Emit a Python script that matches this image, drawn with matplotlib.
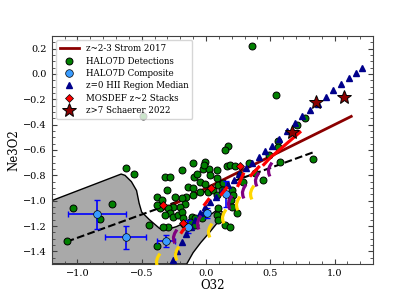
import numpy as np
import matplotlib
matplotlib.use('Agg')
import matplotlib.pyplot as plt
from matplotlib.path import Path

plt.rcParams['font.family'] = 'DejaVu Serif'

# HALO7D detections
det_x = [0.356, 0.545, -0.493, -0.623, -0.56, -1.037, -0.734, -0.825, -1.084, -0.441, -0.384,
         -0.19, -0.021, 0.026, -0.319, -0.28, -0.091, -0.068, -0.047, -0.008, -0.306, -0.384,
         -0.345, -0.138, -0.104, -0.099, -0.156, -0.19, -0.241, -0.163, -0.202, -0.254, -0.293,
         -0.358, -0.384, -0.28, -0.319, -0.254, -0.215, -0.19, -0.293, -0.332, -0.111, -0.086,
         -0.125, -0.086, -0.021, -0.047, 0.018, 0.057, 0.083, 0.083, 0.031, 0.083, -0.099,
         -0.008, -0.016, 0.169, 0.148, 0.16, 0.19, 0.226, 0.335, 0.29, 0.38, 0.44, 0.265,
         0.096, 0.135, 0.122, 0.2, 0.213, 0.195, 0.239, 0.096, 0.083, 0.096, 0.148, 0.187,
         0.576, 0.835, -0.034, 0.563, 0.563, 0.706, 0.77, 0.493, 0.2, -0.18]
det_y = [0.218, -0.166, -0.33, -0.743, -0.79, -1.055, -1.028, -1.144, -1.316, -1.194, -1.358,
         -0.757, -0.749, -0.749, -0.81, -0.81, -0.81, -0.789, -0.85, -0.87, -0.915, -0.968,
         -0.994, -0.889, -0.902, -0.954, -0.968, -0.98, -0.968, -1.028, -1.047, -1.047, -1.06,
         -1.06, -1.034, -1.099, -1.113, -1.126, -1.113, -1.087, -1.205, -1.205, -1.126, -1.139,
         -1.166, -1.192, -1.113, -0.928, -0.928, -0.915, -0.954, -0.823, -0.796, -0.757, -0.704,
         -0.691, -0.717, -0.567, -0.599, -0.725, -0.72, -0.725, -0.70, -0.849, -0.783, -0.84, -0.796,
         -0.875, -0.862, -0.915, -0.915, -0.954, -0.994, -1.094, -1.06, -1.113, -1.152, -1.192, -1.205,
         -0.691, -0.672, -1.139, -0.533, -0.573, -0.401, -0.348, -0.638, -1.047, -1.14]

# HALO7D composite
comp_x = [-0.85, -0.625, -0.311, -0.143, 0.005, 0.158]
comp_y = [-1.107, -1.289, -1.318, -1.205, -1.097, -0.947]
comp_xerr = [0.226, 0.157, 0.072, 0.03, 0.03, 0.02]
comp_yerr = [0.113, 0.092, 0.045, 0.05, 0.04, 0.1]

# z=0 HII region median
hii_x = [-0.26, -0.225, -0.19, -0.155, -0.12, -0.085, -0.045, -0.005, 0.035, 0.08, 0.125,
         0.17, 0.215, 0.26, 0.31, 0.36, 0.41, 0.46, 0.51, 0.57, 0.63, 0.69, 0.75, 0.81, 0.87,
         0.93, 0.99, 1.05, 1.11, 1.165, 1.215]
hii_y = [-1.47, -1.40, -1.33, -1.265, -1.205, -1.15, -1.10, -1.05, -1.01, -0.97, -0.925,
         -0.88, -0.835, -0.79, -0.745, -0.70, -0.655, -0.61, -0.565, -0.51, -0.45, -0.39, -0.335,
         -0.285, -0.235, -0.18, -0.13, -0.08, -0.03, 0.01, 0.05]

# MOSDEF z~2 stacks
mos_x = [-0.332, -0.177, 0.039, 0.265]
mos_y = [-1.034, -1.178, -0.897, -0.73]

# Schaerer 2022
sch_x = [0.667, 0.856, 1.076]
sch_y = [-0.462, -0.225, -0.185]

# Strom 2017 relation
strom_x = [-0.35, 1.13]
strom_y = [-1.078, -0.335]

# black dashed fit
fit_x = [-1.084, 0.83]
fit_y = [-1.324, -0.62]

# model tracks
red_x0 = [-0.19, -0.01, 0.12, 0.25, 0.35, 0.45, 0.53]
red_y0 = [-1.25, -1.03, -0.95, -0.88, -0.80, -0.715, -0.635]
red_x1 = [-0.17, 0.02, 0.16, 0.29, 0.41, 0.51, 0.73]
red_y1 = [-1.22, -0.99, -0.90, -0.79, -0.735, -0.65, -0.46]

yel_x = [-0.38, -0.23, 0.02, 0.135, 0.245, 0.35]
yel_y = [-1.47, -1.41, -1.23, -1.12, -1.02, -0.93]

pur_x = [-0.25, -0.06, 0.18, 0.29, 0.39, 0.49]
pur_y = [-1.28, -1.17, -1.01, -0.92, -0.83, -0.75]

# gray region
gray_x = [-1.2, -0.66, -0.63, -0.58, -0.54, -0.52, -0.50, -0.44, -0.36, -0.28, -0.23, -0.20,
          -0.165, -0.125, -0.06, 0.0, 0.05, 0.09, 0.13, 0.10, 0.06, 0.02, -0.04, -0.10, -0.15, -1.2]
gray_y = [-1.0, -0.79, -0.80, -0.85, -0.92, -1.02, -1.09, -1.15, -1.22, -1.22, -1.205, -1.19,
          -1.23, -1.155, -1.14, -1.125, -1.10, -1.07, -1.09, -1.16, -1.21, -1.26, -1.33, -1.41, -1.5, -1.5]

arc = Path([(0.35, 1.0), (0.02, 0.45), (-0.15, -0.1), (-0.1, -0.6), (0.05, -1.0)])

fig = plt.figure(figsize=(4.15, 2.97), dpi=100)
ax = fig.add_axes([0.1246, 0.111, 0.7744, 0.768])

ax.fill(gray_x, gray_y, facecolor='darkgray', edgecolor='black', lw=1, zorder=1)
ax.plot(fit_x, fit_y, 'k--', lw=1.5, zorder=2)

ax.plot(strom_x, strom_y, color='darkred', lw=2, zorder=3, label='z~2-3 Strom 2017')
ax.plot(det_x, det_y, 'o', ls='none', color='green', mec='black', mew=0.7, ms=5, zorder=4,
        label='HALO7D Detections')
ax.errorbar(comp_x, comp_y, xerr=comp_xerr, yerr=comp_yerr, fmt='none', ecolor='blue',
            elinewidth=1.2, capsize=2.5, zorder=5)
ax.plot(comp_x, comp_y, 'o', ls='none', color='#3a9cff', mec='black', mew=0.5, ms=5.5, zorder=6,
        label='HALO7D Composite')
ax.plot(hii_x, hii_y, '^', ls='none', color='darkblue', ms=5, zorder=5,
        label='z=0 HII Region Median')

for i in range(len(red_x0)):
    ax.plot([red_x0[i], red_x1[i]], [red_y0[i], red_y1[i]], color='red', lw=2.3, zorder=6)
ax.plot(yel_x, yel_y, ls='none', marker=arc, ms=10, mfc='none', mec='gold', mew=2.3, zorder=6)
ax.plot(pur_x, pur_y, ls='none', marker=arc, ms=10, mfc='none', mec='purple', mew=2.3, zorder=6)

ax.plot(mos_x, mos_y, 'D', ls='none', color='red', mec='black', mew=0.5, ms=4, zorder=7,
        label='MOSDEF z~2 Stacks')
ax.plot(sch_x, sch_y, '*', ls='none', color='darkred', mec='black', mew=0.7, ms=10, zorder=8,
        label='z>7 Schaerer 2022')

ax.set_xlim(-1.2, 1.3)
ax.set_ylim(-1.5, 0.3)
ax.set_xticks([-1.0, -0.5, 0.0, 0.5, 1.0])
ax.set_yticks([-1.4, -1.2, -1.0, -0.8, -0.6, -0.4, -0.2, 0.0, 0.2])
ax.set_xticks(np.arange(-1.2, 1.31, 0.1), minor=True)
ax.set_yticks(np.arange(-1.5, 0.31, 0.05), minor=True)
ax.tick_params(which='both', direction='in', top=True, right=True, labelsize=7, color='0.25')
ax.tick_params(which='major', length=3.5, width=0.8)
ax.tick_params(which='minor', length=2, width=0.6)
for s in ax.spines.values():
    s.set_color('0.25')
ax.set_xlabel('O32', fontsize=8.5, labelpad=1)
ax.set_ylabel('Ne3O2', fontsize=8.5, labelpad=2)

ax.legend(loc='upper left', fontsize=6.2, handlelength=2.2, borderpad=0.45, labelspacing=0.4)

fig.savefig('out.png', dpi=100)
